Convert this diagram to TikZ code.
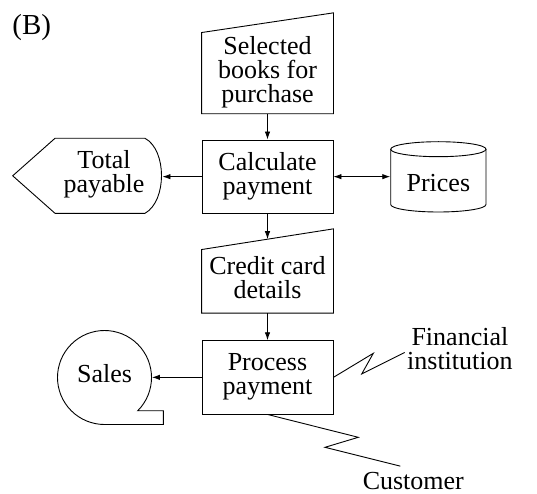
\documentclass[tikz,border=0pt]{standalone}
\usepackage{fontspec}
\setmainfont{Liberation Serif}
\usetikzlibrary{arrows.meta}

\begin{document}
\begin{tikzpicture}[x=1pt,y=-1pt,line width=0.9pt,
  font=\fontsize{26}{24}\selectfont,
  every node/.style={align=center,inner sep=2pt},
  procbox/.style={draw,minimum width=131pt,minimum height=73.3pt},
  inbox/.style={minimum width=131pt},
  arr/.style={-{Latex[length=8pt,width=5.5pt]}},
  dblarr/.style={{Latex[length=8pt,width=5.5pt]}-{Latex[length=8pt,width=5.5pt]}}]
\useasboundingbox (0,0) rectangle (537,494);

\node[anchor=base west,inner sep=0pt,font=\fontsize{29}{29}\selectfont] (lbl) at (12,35) {(B)};

% main column
\node[inbox,minimum height=80.3pt] (sel) at (267.5,73.15) {Selected\\books for\\purchase\strut};
\node[procbox] (calc) at (267.5,176.65) {Calculate\\payment\strut};
\node[inbox,minimum height=62.7pt] (cred) at (267.5,281.35) {Credit card\\details\strut};
\node[procbox] (proc) at (267.5,377.35) {Process\\payment\strut};

% side symbols
\node[minimum width=116pt] (tot) at (104,175.5) {Total\\payable\strut};
\node[minimum width=95.3pt] (pri) at (438.35,186.5) {Prices\strut};
\node[circle,minimum size=94pt] (sales) at (104.5,377.5) {Sales\strut};
\node (fin) at (459.9,352.5) {Financial\\institution\strut};
\node[anchor=base] (cust) at (413.3,489.5) {Customer};

% manual inputs
\draw (sel.south west) -- (sel.north west) -- ([yshift=19.7pt]sel.north east) -- (sel.south east) -- cycle;
\draw (cred.south west) -- (cred.north west) -- coordinate[pos=0.5] (credtop) ([yshift=20.7pt]cred.north east) -- (cred.south east) -- cycle;

% display
\draw (12.7,175.8) -- (55,138.3) -- (145,138.3) .. controls (167,150) and (167,201) .. (145,213.3) -- (55,213.3) -- cycle;

% stored data
\draw (438.35,149.2) ellipse [x radius=47.65, y radius=7.5];
\draw (390.7,149.2) -- (390.7,204.5) arc[start angle=180, end angle=0, x radius=47.65, y radius=7.5] -- (486,149.2);

% sequential storage
\draw ([shift={(45:47)}]sales.center) arc[start angle=45, end angle=-270, radius=47] -- (163.3,424.5) -- (163.3,410.7) -- cycle;

\draw[arr] (sel.south) -- (calc.north);
\draw[arr] (calc.south) -- (credtop);
\draw[arr] (cred.south) -- (proc.north);
\draw[arr] (calc.west) -- (calc.west -| tot.east);
\draw[dblarr] (calc.east) -- (calc.east -| pri.west);
\draw[arr] (proc.west) -- (proc.west -| sales.east);

% links
\draw (proc.east) -- (373.3,353.3) -- (361.7,374) -- (fin.west);
\draw (proc.south) -- (358.3,437.3) -- (325,447.3) -- ([shift={(-13,-3.7)}]cust.north);
\end{tikzpicture}
\end{document}
